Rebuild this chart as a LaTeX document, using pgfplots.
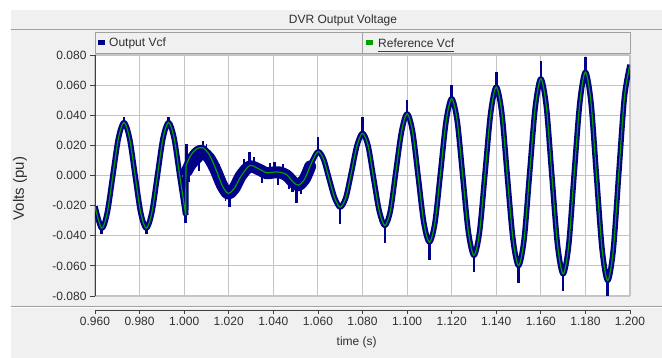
\documentclass[border=0pt]{standalone}
\usepackage{pgfplots}
\usepackage{pgfplotstable}
\pgfplotsset{compat=1.18}
\usepackage{fontspec}
\setmainfont{Liberation Sans}
\definecolor{panel}{HTML}{F0F0F0}
\definecolor{gridc}{HTML}{C4C4C4}
\definecolor{edge}{HTML}{A0A0A0}
\definecolor{axc}{HTML}{404040}
\definecolor{vblue}{HTML}{000088}
\definecolor{vgreen}{HTML}{00A000}
\definecolor{txt}{HTML}{2F2F2F}
\newcommand\tk{\fontsize{12bp}{14bp}\selectfont}

% Reference Vcf, before the step
\pgfplotstableread{
t v
0.9600 -0.0206
0.9630 -0.0350
0.9655 -0.0247
0.9680 0.0000
0.9705 0.0247
0.9730 0.0352
0.9755 0.0247
0.9780 0.0000
0.9805 -0.0247
0.9830 -0.0350
0.9855 -0.0247
0.9880 0.0000
0.9905 0.0247
0.9930 0.0352
0.9955 0.0247
0.9980 0.0000
1.0007 -0.0263
}\greenA

% Reference Vcf, after the step
\pgfplotstableread{
t v
1.0008 0.0065
1.0030 0.0135
1.0055 0.0175
1.0082 0.0185
1.0110 0.0145
1.0140 0.0050
1.0170 -0.0065
1.0197 -0.0118
1.0225 -0.0085
1.0255 -0.0005
1.0294 0.0066
1.0335 0.0044
1.0370 0.0018
1.0400 0.0022
1.0430 0.0022
1.0460 0.0005
1.0490 -0.0045
1.0512 -0.0064
1.0540 -0.0025
1.0570 0.0080
1.0600 0.0158
1.0625 0.0110
1.0650 -0.0020
1.0675 -0.0148
1.0700 -0.0210
1.0725 -0.0148
1.0750 0.0020
1.0775 0.0198
1.0800 0.0280
1.0825 0.0198
1.0850 -0.0020
1.0875 -0.0235
1.0900 -0.0332
1.0925 -0.0235
1.0950 0.0030
1.0975 0.0290
1.1000 0.0410
1.1025 0.0290
1.1050 -0.0010
1.1075 -0.0313
1.1100 -0.0443
1.1125 -0.0313
1.1150 0.0020
1.1175 0.0361
1.1200 0.0510
1.1225 0.0361
1.1250 -0.0010
1.1275 -0.0375
1.1300 -0.0530
1.1325 -0.0375
1.1350 0.0020
1.1375 0.0415
1.1400 0.0587
1.1425 0.0415
1.1450 -0.0010
1.1475 -0.0423
1.1500 -0.0598
1.1525 -0.0423
1.1550 0.0020
1.1575 0.0454
1.1600 0.0642
1.1625 0.0454
1.1650 -0.0010
1.1675 -0.0462
1.1700 -0.0653
1.1725 -0.0462
1.1750 0.0020
1.1775 0.0485
1.1800 0.0686
1.1825 0.0485
1.1850 -0.0010
1.1875 -0.0493
1.1900 -0.0697
1.1925 -0.0493
1.1950 0.0020
1.1975 0.0520
1.2000 0.0735
}\greenC

% Output Vcf: wide noisy band after the step
\pgfplotstableread{
t v
1.0012 0.0030
1.0030 0.0075
1.0055 0.0115
1.0082 0.0150
1.0110 0.0120
1.0140 0.0040
1.0170 -0.0065
1.0197 -0.0120
1.0225 -0.0085
1.0255 0.0000
1.0294 0.0060
1.0335 0.0040
1.0370 0.0015
1.0400 0.0020
1.0430 0.0020
1.0460 0.0000
1.0490 -0.0045
1.0512 -0.0065
1.0540 -0.0025
1.0565 0.0060
}\blob

% Output Vcf: spikes
\pgfplotstableread{
t v
0.9630 -0.0330
0.9630 -0.0388
0.9630 nan
0.9730 0.0330
0.9730 0.0390
0.9730 nan
0.9830 -0.0330
0.9830 -0.0386
0.9830 nan
0.9930 0.0330
0.9930 0.0388
0.9930 nan
1.0005 -0.0240
1.0005 -0.0318
1.0005 nan
1.0011 0.0050
1.0011 0.0210
1.0011 nan
1.0084 0.0160
1.0084 0.0228
1.0084 nan
1.0203 -0.0120
1.0203 -0.0210
1.0203 nan
1.0294 0.0060
1.0294 0.0155
1.0294 nan
1.0405 0.0020
1.0405 0.0090
1.0405 nan
1.0485 -0.0040
1.0485 -0.0110
1.0485 nan
1.0503 -0.0060
1.0503 -0.0180
1.0503 nan
1.0600 0.0150
1.0600 0.0258
1.0600 nan
1.0700 -0.0200
1.0700 -0.0320
1.0700 nan
1.0800 0.0270
1.0800 0.0390
1.0800 nan
1.0900 -0.0320
1.0900 -0.0450
1.0900 nan
1.1000 0.0400
1.1000 0.0500
1.1000 nan
1.1100 -0.0430
1.1100 -0.0560
1.1100 nan
1.1200 0.0500
1.1200 0.0600
1.1200 nan
1.1300 -0.0520
1.1300 -0.0640
1.1300 nan
1.1400 0.0580
1.1400 0.0686
1.1400 nan
1.1500 -0.0590
1.1500 -0.0715
1.1500 nan
1.1600 0.0630
1.1600 0.0760
1.1600 nan
1.1700 -0.0640
1.1700 -0.0770
1.1700 nan
1.1800 0.0680
1.1800 0.0790
1.1800 nan
1.1900 -0.0690
1.1900 -0.0797
}\spikes

% Output Vcf: short noise spikes in the disturbed interval
\pgfplotstableread{
t v
1.0020 0.0040
1.0020 -0.0040
1.0020 nan
1.0045 0.0100
1.0045 0.0180
1.0045 nan
1.0065 0.0120
1.0065 0.0030
1.0065 nan
1.0100 0.0130
1.0100 0.0210
1.0100 nan
1.0125 0.0080
1.0125 0.0005
1.0125 nan
1.0155 0.0000
1.0155 0.0075
1.0155 nan
1.0185 -0.0100
1.0185 -0.0170
1.0185 nan
1.0240 -0.0040
1.0240 -0.0110
1.0240 nan
1.0270 0.0030
1.0270 0.0110
1.0270 nan
1.0315 0.0050
1.0315 0.0120
1.0315 nan
1.0350 0.0030
1.0350 -0.0050
1.0350 nan
1.0385 0.0020
1.0385 0.0085
1.0385 nan
1.0420 0.0020
1.0420 -0.0060
1.0420 nan
1.0445 0.0010
1.0445 0.0075
1.0445 nan
1.0470 -0.0020
1.0470 -0.0090
1.0470 nan
1.0525 -0.0050
1.0525 -0.0120
1.0525 nan
1.0550 0.0010
1.0550 0.0080
}\noise

\begin{document}
\begin{tikzpicture}
\useasboundingbox (0,0) rectangle (662bp,358bp);
\begin{scope}[x=1bp,y=1bp]
\fill[white] (0,0) rectangle (662,358);
\fill[panel] (11,0) rectangle (662,348);
\draw[edge, line width=1bp] (11,328.5) -- (662,328.5);
\node[text=txt, font=\tk] at (343,338) {DVR Output Voltage};
\end{scope}

\begin{axis}[
  at={(95bp,62bp)}, anchor=south west,
  scale only axis, width=535bp, height=241bp,
  xmin=0.96, xmax=1.2, ymin=-0.08, ymax=0.08,
  axis background/.style={fill=white},
  axis x line*=bottom, axis y line*=left,
  x axis line style={draw=none},
  y axis line style={draw=axc, line width=1bp},
  xtick={0.96,0.98,1.0,1.02,1.04,1.06,1.08,1.1,1.12,1.14,1.16,1.18,1.2},
  xticklabels={},
  xtick style={draw=none},
  ytick={-0.08,-0.06,-0.04,-0.02,0,0.02,0.04,0.06,0.08},
  ytick style={draw=axc, line width=0.8bp},
  tick align=outside, major tick length=5bp,
  grid=major, major grid style={draw=gridc, line width=1.1bp},
  scaled y ticks=false,
  /pgf/number format/assume math mode=true,
  yticklabel style={font=\tk, text=txt, /pgf/number format/fixed, /pgf/number format/fixed zerofill, /pgf/number format/precision=3},
]
\addplot[vblue, line width=5.5bp, smooth, line join=round] table {\greenA};
\addplot[vblue, line width=5.5bp, smooth, line join=round] table {\greenC};
\addplot[vblue, line width=5.5bp] coordinates {(1.0007,-0.0263) (1.0008,0.0065)};
\addplot[vblue, line width=12bp, smooth, line cap=round, line join=round] table {\blob};
\addplot[vblue, line width=2.5bp, unbounded coords=jump] table {\spikes};
\addplot[vblue, line width=1.8bp, unbounded coords=jump] table {\noise};
\addplot[vgreen, line width=1.2bp, smooth] table {\greenA};
\addplot[vgreen, line width=1.2bp] coordinates {(1.0007,-0.0263) (1.0008,0.0065)};
\addplot[vgreen, line width=1.2bp, smooth] table {\greenC};
\end{axis}

\begin{axis}[
  at={(95bp,48bp)}, anchor=south west,
  scale only axis, width=535bp, height=1bp,
  xmin=0.96, xmax=1.2, ymin=0, ymax=1,
  axis x line*=bottom, hide y axis,
  x axis line style={draw=axc, line width=1bp},
  xtick={0.96,0.98,1.0,1.02,1.04,1.06,1.08,1.1,1.12,1.14,1.16,1.18,1.2},
  tick align=outside, major tick length=4bp,
  xtick style={draw=axc, line width=0.8bp},
  scaled x ticks=false,
  /pgf/number format/assume math mode=true,
  xticklabel style={font=\tk, text=txt, /pgf/number format/fixed, /pgf/number format/fixed zerofill, /pgf/number format/precision=3},
]
\addplot[draw=none] coordinates {(1.0,0.5)};
\end{axis}

\begin{scope}[x=1bp,y=1bp]
\draw[edge, line width=1bp] (11,51.5) -- (662,51.5);
\draw[white, line width=1bp] (11,50.5) -- (662,50.5);
% legend bar
\fill[panel] (95,304) rectangle (630,325);
\draw[edge, line width=1bp] (95,304) rectangle (630,325);
\draw[edge, line width=1bp] (362,304) -- (362,325);
\fill[vblue] (98,313) rectangle (105,318);
\node[anchor=west, inner sep=0pt, text=txt, font=\tk] at (109,314.5) {Output Vcf};
\fill[vgreen] (366,313) rectangle (373,318);
\node[anchor=west, inner sep=0pt, text=txt, font=\tk] at (378,314.5) {Reference Vcf};
\draw[axc, line width=1.3bp] (378,306.5) -- (454,306.5);
\node[rotate=90, text=txt, font=\fontsize{15bp}{17bp}\selectfont] at (20,169.5) {Volts (pu)};
\node[text=txt, font=\tk] at (356.7,15.3) {time (s)};
\end{scope}
\end{tikzpicture}
\end{document}
